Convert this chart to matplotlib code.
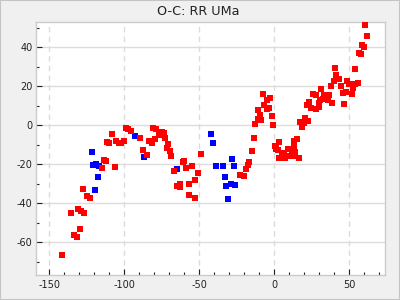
#! /usr/bin/env python3

"""Plot the O-C diagram of RR UMa."""

import matplotlib
matplotlib.use('Agg')
import matplotlib.pyplot as plt
from matplotlib.patches import Rectangle
from matplotlib.ticker import MultipleLocator

# Red points (cycle number in units of 1000, O-C in minutes)
red_x = [-141.1, -135.1, -133.1, -131.1, -130.4, -129.1, -128.4, -126.4,
         -127.1, -124.4, -122.4, -114.4, -113.1, -112.2, -106.4, -111.1,
         -110.4, -108.4, -105.1, -103.1, -102.4, -100.4, -98.5, -97.1,
         -95.1, -89.1, -87.1, -84.5, -83.1, -81.1, -80.5, -78.5, -79.1,
         -76.5, -74.9, -73.1, -72.5, -70.5, -71.1, -69.1, -68.5, -66.9,
         -64.5, -63.1, -62.5, -60.9, -60.2, -58.9, -57.1, -56.5, -54.5,
         -53.1, -52.5, -51.1, -49.1,
         -22.7, -19.8, -18.5, -17.8, -16.5, -14.5, -13.8, -12.5, -11.1,
         -8.5, -9.8, -10.5, -7.8, -6.5, -5.1, -4.5, -3.8, -2.5, -1.8,
         -0.5, 0.2, 1.5, 2.9, 1.1, 2.2, 3.5, 4.2, 4.9, 6.5, 7.5, 9.1,
         9.8, 11.8, 12.5, 13.1, 13.8, 13.5, 15.1, 16.2, 17.5, 18.5, 19.8,
         20.5, 22.2, 21.8, 23.5, 24.5, 25.8, 27.5, 27.8, 29.5, 30.0, 30.2,
         32.2, 31.3, 33.3, 34.2, 35.5, 36.2, 38.2, 37.5, 39.5, 40.2, 41.3,
         42.9, 44.2, 45.5, 46.2, 47.5, 48.2, 50.0, 51.5, 52.2, 53.8, 55.5,
         53.5, 56.2, 57.5, 58.2, 59.5, 60.2, 61.5]
red_y = [-66.5, -45.0, -56.3, -57.3, -43.0, -53.2, -44.0, -45.0,
         -32.7, -36.3, -37.3, -22.0, -17.7, -18.4, -21.5, -8.7,
         -9.2, -4.5, -8.0, -9.1, -9.2, -8.0, -1.5, -2.0,
         -2.9, -6.6, -12.6, -15.3, -8.0, -9.2, -1.5, -2.0, -7.2,
         -5.0, -3.4, -4.1, -6.6, -9.7, -11.8, -13.3, -15.9, -23.5,
         -31.2, -31.7, -30.2, -18.9, -18.4, -22.0, -30.2, -35.8, -21.0,
         -37.3, -28.1, -24.6, -14.8,
         -25.4, -26.1, -22.5, -20.5, -18.9, -13.3, -6.6, 0.5, 3.1,
         2.6, 5.1, 7.7, 15.9, 10.4, 12.9, 8.3, 8.7, 14.0, 4.8,
         0.0, -10.4, -10.6, -8.7, -12.3, -12.5, -16.9, -16.9, -15.0, -14.3, -16.7, -12.3,
         -15.9, -13.1, -15.9, -10.9, -13.5, -7.9, -7.0, -16.7, 1.7, -0.7, 1.0,
         3.6, 2.0, 10.2, 11.8, 8.7, 15.9, 8.5, 15.7, 9.5, 11.3, 12.9,
         13.5, 18.4, 15.3, 14.0, 12.9, 15.3, 11.3, 20.1, 22.5, 29.3, 25.6,
         23.7, 20.1, 16.4, 10.7, 16.9, 22.5, 21.1, 15.9, 18.9, 21.0, 21.6,
         28.6, 37.0, 36.3, 41.4, 39.9, 51.2, 46.0]

# Blue points
blue_x = [-121.1, -120.4, -118.4, -116.4, -117.1, -119.1, -92.5, -86.5,
          -64.9, -41.8, -40.5, -27.8, -38.5, -33.8, -26.5, -32.5, -31.8,
          -28.5, -25.8, -30.5]
blue_y = [-13.8, -20.5, -19.9, -20.8, -26.6, -33.2, -5.6, -16.4,
          -22.4, -4.6, -9.2, -17.4, -21.0, -21.0, -21.0, -26.6, -31.2,
          -30.0, -30.7, -37.9]

title = 'O-C: RR UMa'


def make_plot():
    """Draw the O-C scatter and save it."""
    plt.rcParams['axes.unicode_minus'] = False
    plt.rcParams['font.family'] = 'DejaVu Sans'

    fig = plt.figure(figsize=(4, 3), dpi=100, facecolor='#f0f0f0')
    fig.patches.append(Rectangle((0, 0), 1, 1, transform=fig.transFigure,
                                 fill=False, edgecolor='#c4c4c4',
                                 linewidth=1.5))
    ax = fig.add_axes([0.09, 0.0833, 0.8725, 0.8444])

    ax.scatter(blue_x, blue_y, marker='s', s=14, color='#0000ff',
               linewidths=0, zorder=3)
    ax.scatter(red_x, red_y, marker='s', s=14, color='#ff0000',
               linewidths=0, zorder=3)

    ax.set_xlim(-158.7, 73.8)
    ax.set_ylim(-76.8, 53.1)

    ax.xaxis.set_major_locator(MultipleLocator(50))
    ax.xaxis.set_minor_locator(MultipleLocator(10))
    ax.yaxis.set_major_locator(MultipleLocator(20))
    ax.yaxis.set_minor_locator(MultipleLocator(10))

    # Solid horizontal grid, dashed vertical grid
    ax.grid(axis='y', which='major', color='#dcdcdc', linewidth=1)
    ax.grid(axis='x', which='major', color='#dcdcdc', linewidth=1,
            linestyle=(0, (4, 3)))
    ax.set_axisbelow(True)

    ax.tick_params(which='both', direction='in', color='#222222',
                   labelsize=7, labelcolor='#222222')
    ax.tick_params(which='major', length=4, width=0.8)
    ax.tick_params(which='minor', length=2.5, width=0.8)
    ax.tick_params(axis='y', pad=2.5)
    ax.tick_params(axis='x', pad=3.5)

    for spine in ax.spines.values():
        spine.set_color('#cccccc')
        spine.set_linewidth(1)

    fig.text(0.495, 0.963, title, ha='center', va='center',
             fontsize=9.2, color='#222222')

    fig.savefig('out.png', dpi=100, facecolor=fig.get_facecolor())


if __name__ == "__main__":
    make_plot()
